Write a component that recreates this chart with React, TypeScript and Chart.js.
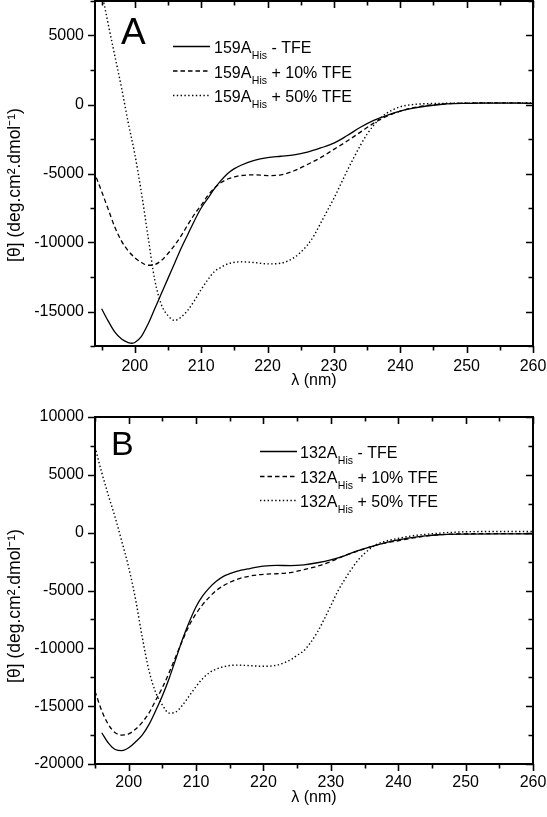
import React, { useEffect, useRef } from "react";
import { Chart, registerables } from "chart.js";

Chart.register(...registerables);

const FONT = '"Liberation Sans", Arial, Helvetica, sans-serif';

// ---------- Panel A: 159A_His ----------
const A_SOLID_X = [195, 196, 197, 198, 199, 199.6, 200, 201, 202, 203, 204, 205, 206, 207, 208, 209, 210, 211, 212, 213, 214, 215, 216, 218, 220, 222, 224, 226, 228, 230, 232, 234, 236, 238, 240, 242, 244, 246, 248, 250, 252, 255, 258, 260];
const A_SOLID_Y = [-14800, -15700, -16500, -17000, -17250, -17300, -17250, -16800, -15900, -14800, -13700, -12600, -11500, -10400, -9400, -8400, -7500, -6800, -6100, -5500, -5000, -4650, -4400, -4050, -3850, -3750, -3650, -3450, -3150, -2800, -2250, -1650, -1150, -780, -480, -270, -110, 0, 60, 80, 100, 100, 100, 80];

const A_DASH_X = [194.2, 195, 196, 197, 198, 199, 200, 201, 202, 203, 204, 205, 206, 207, 208, 209, 210, 211, 212, 213, 214, 215, 216, 218, 220, 222, 224, 226, 228, 230, 232, 234, 236, 238, 240, 242, 244, 246, 248, 250, 255, 260];
const A_DASH_Y = [-5300, -6300, -7600, -8900, -9900, -10600, -11100, -11450, -11650, -11600, -11300, -10800, -10200, -9500, -8700, -7950, -7300, -6600, -6050, -5650, -5400, -5250, -5150, -5100, -5150, -5100, -4800, -4350, -3850, -3250, -2650, -2000, -1350, -850, -480, -230, -70, 20, 80, 100, 120, 100];

const A_DOT_X = [195, 196, 197, 198, 199, 200, 201, 202, 203, 204, 205, 206, 207, 208, 209, 210, 211, 212, 213, 214, 216, 218, 220, 222, 224, 225, 226, 227, 228, 229, 230, 231, 232, 233, 234, 235, 236, 237, 238, 239, 240, 242, 244, 246, 250, 255, 260];
const A_DOT_Y = [8200, 5800, 3500, 1200, -1300, -3600, -6400, -9600, -12700, -14500, -15300, -15650, -15400, -14900, -14200, -13400, -12700, -12100, -11800, -11550, -11400, -11450, -11550, -11500, -11100, -10700, -10200, -9500, -8600, -7700, -6800, -5800, -4800, -3850, -2950, -2150, -1500, -980, -620, -360, -160, 0, 60, 80, 100, 120, 120];

// ---------- Panel B: 132A_His ----------
const B_SOLID_X = [196, 197, 198, 199, 200, 201, 202, 203, 204, 205, 206, 207, 208, 209, 210, 211, 212, 213, 214, 215, 216, 218, 220, 222, 224, 226, 228, 230, 232, 234, 236, 238, 240, 242, 244, 246, 250, 255, 260];
const B_SOLID_Y = [-17300, -18200, -18750, -18850, -18600, -18100, -17500, -16600, -15400, -14100, -12600, -10900, -9200, -7700, -6400, -5450, -4750, -4200, -3800, -3550, -3350, -3100, -2900, -2830, -2850, -2780, -2600, -2350, -2000, -1550, -1200, -880, -620, -430, -280, -180, -120, -100, -100];

const B_DASH_X = [195, 196, 197, 198, 199, 200, 201, 202, 203, 204, 205, 206, 207, 208, 209, 210, 211, 212, 213, 214, 215, 216, 218, 220, 222, 224, 226, 228, 230, 232, 234, 236, 238, 240, 242, 244, 246, 250, 255, 260];
const B_DASH_Y = [-13700, -15400, -16600, -17300, -17500, -17400, -17000, -16400, -15600, -14500, -13400, -12100, -10700, -9300, -8000, -7000, -6200, -5550, -5000, -4600, -4300, -4050, -3750, -3600, -3550, -3450, -3200, -2900, -2500, -2000, -1600, -1200, -900, -700, -480, -300, -180, -100, -80, -80];

const B_DOT_X = [195, 196, 197, 198, 199, 200, 201, 202, 203, 204, 205, 206, 207, 208, 209, 210, 211, 212, 213, 214, 216, 218, 220, 222, 224, 225, 226, 227, 228, 229, 230, 231, 232, 233, 234, 235, 236, 237, 238, 240, 242, 244, 246, 248, 250, 255, 260];
const B_DOT_Y = [7400, 5200, 3200, 1300, -800, -3000, -5700, -9000, -11900, -13800, -14900, -15600, -15500, -14900, -14100, -13300, -12600, -12100, -11800, -11600, -11450, -11500, -11550, -11450, -11000, -10600, -10200, -9500, -8600, -7500, -6300, -5100, -4100, -3200, -2400, -1800, -1300, -950, -750, -500, -280, -150, -50, 30, 80, 100, 100];

// ---------- Labels / ticks ----------
const X_TICKS = [200, 210, 220, 230, 240, 250, 260];
const A_Y_TICKS = [-15000, -10000, -5000, 0, 5000];
const B_Y_TICKS = [-20000, -15000, -10000, -5000, 0, 5000, 10000];
const A_LEGEND = [
  ["159A", "His", " - TFE"],
  ["159A", "His", " + 10% TFE"],
  ["159A", "His", " + 50% TFE"],
];
const B_LEGEND = [
  ["132A", "His", " - TFE"],
  ["132A", "His", " + 10% TFE"],
  ["132A", "His", " + 50% TFE"],
];
const DASHES: number[][] = [[], [4.5, 3], [1.4, 2.4]];
const Y_TITLE = "[\u03b8] (deg.cm\u00b2.dmol\u207b\u00b9)";
const X_TITLE = "\u03bb (nm)";

type PanelCfg = {
  top: number;
  height: number;
  chartTop: number;
  chartBottom: number;
  xMin: number;
  yMin: number;
  yMax: number;
  yTicks: number[];
  xPad: number;
  series: { x: number[]; y: number[] }[];
  legend: string[][];
  legendLineX0: number;
  legendLineX1: number;
  legendTextX: number;
  legendBaselines: number[];
  letter: string;
  letterX: number;
  letterY: number;
  letterSize: number;
  xTitleY: number;
  yTitleY: number;
};

const PANELS: PanelCfg[] = [
  {
    top: 0,
    height: 400,
    chartTop: 1,
    chartBottom: 346,
    xMin: 194,
    yMin: -17500,
    yMax: 7500,
    yTicks: A_Y_TICKS,
    xPad: 11,
    series: [
      { x: A_SOLID_X, y: A_SOLID_Y },
      { x: A_DASH_X, y: A_DASH_Y },
      { x: A_DOT_X, y: A_DOT_Y },
    ],
    legend: A_LEGEND,
    legendLineX0: 173,
    legendLineX1: 210,
    legendTextX: 214,
    legendBaselines: [53, 77.5, 102],
    letter: "A",
    letterX: 121,
    letterY: 43.5,
    letterSize: 37,
    xTitleY: 381,
    yTitleY: 185,
  },
  {
    top: 400,
    height: 417,
    chartTop: 17,
    chartBottom: 364,
    xMin: 195,
    yMin: -20000,
    yMax: 10000,
    yTicks: B_Y_TICKS,
    xPad: 9,
    series: [
      { x: B_SOLID_X, y: B_SOLID_Y },
      { x: B_DASH_X, y: B_DASH_Y },
      { x: B_DOT_X, y: B_DOT_Y },
    ],
    legend: B_LEGEND,
    legendLineX0: 260,
    legendLineX1: 297,
    legendTextX: 300,
    legendBaselines: [458, 483, 507],
    letter: "B",
    letterX: 111,
    letterY: 455,
    letterSize: 34,
    xTitleY: 798,
    yTitleY: 606,
  },
];

function makeDecorPlugin(cfg: PanelCfg) {
  return {
    id: "decor" + cfg.letter,
    afterDraw(chart: any) {
      const ctx = chart.ctx as CanvasRenderingContext2D;
      const ca = chart.chartArea;
      const xs = chart.scales.x;
      const ys = chart.scales.y;
      const off = cfg.top;
      ctx.save();
      ctx.strokeStyle = "#000";
      ctx.fillStyle = "#000";
      // frame
      ctx.lineWidth = 2;
      ctx.setLineDash([]);
      ctx.strokeRect(ca.left, ca.top, ca.right - ca.left, ca.bottom - ca.top);
      // x ticks
      ctx.lineWidth = 1.6;
      for (let v = Math.ceil(cfg.xMin / 5) * 5; v <= 260; v += 5) {
        const px = Math.round(xs.getPixelForValue(v)) + 0.5;
        const len = v % 10 === 0 ? 7 : 4.5;
        ctx.beginPath();
        ctx.moveTo(px, ca.bottom);
        ctx.lineTo(px, ca.bottom + len);
        ctx.moveTo(px, ca.top);
        ctx.lineTo(px, ca.top + len);
        ctx.stroke();
      }
      // y ticks
      for (let v = Math.ceil(cfg.yMin / 2500) * 2500; v <= cfg.yMax; v += 2500) {
        const py = Math.round(ys.getPixelForValue(v)) + 0.5;
        const len = v % 5000 === 0 ? 7 : 4.5;
        ctx.beginPath();
        ctx.moveTo(ca.left, py);
        ctx.lineTo(ca.left - len, py);
        ctx.moveTo(ca.right, py);
        ctx.lineTo(ca.right - len, py);
        ctx.stroke();
      }
      // x title
      ctx.font = `16px ${FONT}`;
      ctx.textAlign = "center";
      ctx.textBaseline = "middle";
      ctx.fillText(X_TITLE, (ca.left + ca.right) / 2, cfg.xTitleY - off);
      // y title
      ctx.save();
      ctx.translate(15, cfg.yTitleY - off);
      ctx.rotate(-Math.PI / 2);
      ctx.font = `17.5px ${FONT}`;
      ctx.fillText(Y_TITLE, 0, 0);
      ctx.restore();
      // panel letter
      ctx.textAlign = "left";
      ctx.textBaseline = "alphabetic";
      ctx.font = `${cfg.letterSize}px ${FONT}`;
      ctx.fillText(cfg.letter, cfg.letterX, cfg.letterY - off);
      // legend
      cfg.legend.forEach((row, i) => {
        const base = cfg.legendBaselines[i] - off;
        const ly = base - 6.5;
        ctx.lineWidth = 1.3;
        ctx.setLineDash(DASHES[i]);
        ctx.beginPath();
        ctx.moveTo(cfg.legendLineX0, ly);
        ctx.lineTo(cfg.legendLineX1, ly);
        ctx.stroke();
        ctx.setLineDash([]);
        let x = cfg.legendTextX;
        ctx.font = `16px ${FONT}`;
        ctx.fillText(row[0], x, base);
        x += ctx.measureText(row[0]).width + 0.5;
        ctx.font = `10.5px ${FONT}`;
        ctx.fillText(row[1], x, base + 6);
        x += ctx.measureText(row[1]).width;
        ctx.font = `16px ${FONT}`;
        ctx.fillText(row[2], x, base);
      });
      ctx.restore();
    },
  };
}

const zeroPad = (s: any) => {
  s.paddingTop = 0;
  s.paddingBottom = 0;
  s.paddingLeft = 0;
  s.paddingRight = 0;
};

function Panel({ cfg }: { cfg: PanelCfg }) {
  const ref = useRef<HTMLCanvasElement | null>(null);
  useEffect(() => {
    if (!ref.current) return;
    const chart = new Chart(ref.current, {
      type: "line",
      data: {
        datasets: cfg.series.map((s, i) => ({
          data: s.x.map((x, j) => ({ x, y: s.y[j] })),
          borderColor: "#000",
          borderWidth: i === 2 ? 1.4 : 1.3,
          borderDash: DASHES[i],
          pointRadius: 0,
          fill: false,
          cubicInterpolationMode: "monotone" as const,
        })),
      },
      options: {
        animation: false,
        responsive: false,
        devicePixelRatio: 1,
        events: [],
        layout: { padding: { left: 0, right: 14, top: cfg.chartTop, bottom: 0 } },
        plugins: { legend: { display: false }, tooltip: { enabled: false }, title: { display: false } },
        scales: {
          x: {
            type: "linear",
            min: cfg.xMin,
            max: 260,
            grid: { display: false, drawTicks: false },
            border: { display: false },
            ticks: {
              color: "#000",
              font: { family: FONT, size: 16 },
              padding: cfg.xPad,
              maxRotation: 0,
              autoSkip: false,
              callback: (v: any) => String(v),
            },
            afterBuildTicks: (s: any) => {
              s.ticks = X_TICKS.map((v) => ({ value: v }));
            },
            afterFit: (s: any) => {
              s.height = cfg.height - cfg.chartBottom;
              zeroPad(s);
            },
          },
          y: {
            type: "linear",
            min: cfg.yMin,
            max: cfg.yMax,
            grid: { display: false, drawTicks: false },
            border: { display: false },
            ticks: {
              color: "#000",
              font: { family: FONT, size: 16 },
              padding: 11,
              autoSkip: false,
              callback: (v: any) => String(v),
            },
            afterBuildTicks: (s: any) => {
              s.ticks = cfg.yTicks.map((v) => ({ value: v }));
            },
            afterFit: (s: any) => {
              s.width = 95;
              zeroPad(s);
            },
          },
        },
      },
      plugins: [makeDecorPlugin(cfg)],
    } as any);
    return () => chart.destroy();
  }, [cfg]);
  return (
    <canvas
      ref={ref}
      width={547}
      height={cfg.height}
      style={{ position: "absolute", left: 0, top: cfg.top, width: 547, height: cfg.height, display: "block" }}
    />
  );
}

export default function App() {
  return (
    <div style={{ position: "absolute", left: 0, top: 0, width: 547, height: 817, background: "#fff", overflow: "hidden" }}>
      {PANELS.map((p) => (
        <Panel key={p.letter} cfg={p} />
      ))}
    </div>
  );
}
